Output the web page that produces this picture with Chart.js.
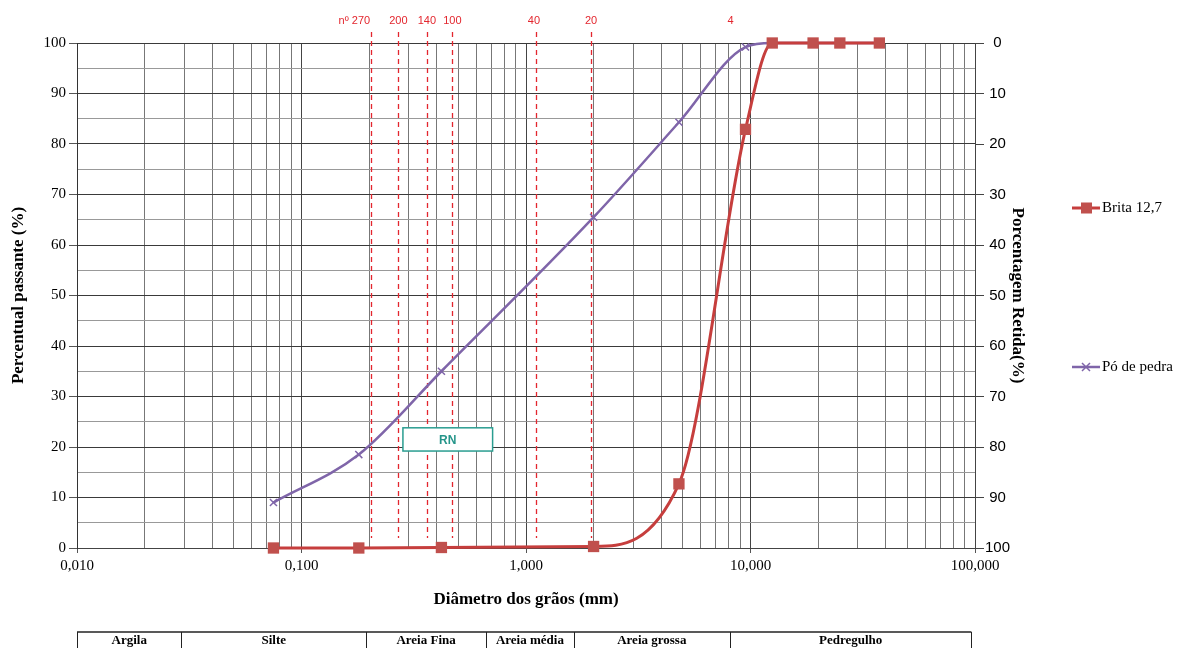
<!DOCTYPE html>
<html>
<head>
<meta charset="utf-8">
<script src="https://cdn.jsdelivr.net/npm/chart.js@4.4.1/dist/chart.umd.min.js"></script>
<style>
html, body { margin: 0; padding: 0; background: #fff; }
#wrap { width: 1181px; height: 648px; position: relative; }
</style>
</head>
<body>
<div id="wrap"><canvas id="granChart" width="1181" height="648"></canvas></div>
<script>
// abertura das peneiras (mm) e % passante
var sieveSizes = [0.075, 0.18, 0.42, 2.0, 4.8, 9.5, 12.5, 19, 25, 37.5];
var britaPassing = [0, 0, 0.1, 0.3, 12.7, 82.9, 100, 100, 100, 100];
var poPassing = [9.0, 18.5, 35.0, 65.5, 84.3, 99.2, 100, 100, 100, 100];

// linhas tracejadas (peneiras de referencia)
var refLabels = ['nº 270', '200', '140', '100', '40', '20', '4'];
var refLines = [0.205, 0.27, 0.362, 0.47, 1.11, 1.95, null];
var refLabelAt = [0.172, 0.27, 0.362, 0.47, 1.085, 1.95, 8.15];

// caixa RN
var rnX = [0.283, 0.71];
var rnY = [19.2, 23.8];

// tabela de classificacao
var soilClasses = ['Argila', 'Silte', 'Areia Fina', 'Areia média', 'Areia grossa', 'Pedregulho'];
var soilLimits = [0.01, 0.0292, 0.194, 0.664, 1.632, 8.09, 96.4];

var decades = [0.01, 0.1, 1, 10, 100];

function isDecade(v) {
    var l = Math.log10(v);
    return Math.abs(l - Math.round(l)) < 1e-9;
}

var serif = '"Liberation Serif", "Times New Roman", serif';
var sans = '"Liberation Sans", Arial, sans-serif';

var overlays = {
    id: 'overlays',
    beforeDatasetsDraw: function (chart) {
        var ctx = chart.ctx, xs = chart.scales.x, ys = chart.scales.y;
        var top = chart.chartArea.top - 11;
        ctx.save();
        ctx.strokeStyle = '#e3262e';
        ctx.lineWidth = 1.3;
        ctx.setLineDash([5, 4]);
        for (var i = 0; i < refLines.length; i++) {
            if (refLines[i] === null) continue;
            var px = Math.round(xs.getPixelForValue(refLines[i])) + 0.5;
            ctx.beginPath();
            ctx.moveTo(px, top);
            ctx.lineTo(px, ys.getPixelForValue(2));
            ctx.stroke();
        }
        ctx.setLineDash([]);
        ctx.fillStyle = '#e3262e';
        ctx.font = '11px ' + sans;
        ctx.textAlign = 'center';
        ctx.textBaseline = 'middle';
        for (var j = 0; j < refLabels.length; j++) {
            ctx.fillText(refLabels[j], xs.getPixelForValue(refLabelAt[j]), 21);
        }
        ctx.restore();
    },
    afterDatasetsDraw: function (chart) {
        var ctx = chart.ctx, xs = chart.scales.x, ys = chart.scales.y;
        var x0 = xs.getPixelForValue(rnX[0]), x1 = xs.getPixelForValue(rnX[1]);
        var y0 = ys.getPixelForValue(rnY[1]), y1 = ys.getPixelForValue(rnY[0]);
        ctx.save();
        ctx.fillStyle = '#fff';
        ctx.fillRect(x0, y0, x1 - x0, y1 - y0);
        ctx.strokeStyle = '#2a9d90';
        ctx.lineWidth = 1.5;
        ctx.strokeRect(x0, y0, x1 - x0, y1 - y0);
        ctx.fillStyle = '#25958a';
        ctx.font = 'bold 12px ' + sans;
        ctx.textAlign = 'center';
        ctx.textBaseline = 'middle';
        ctx.fillText('RN', (x0 + x1) / 2, (y0 + y1) / 2 + 1);
        ctx.restore();
    },
    afterDraw: function (chart) {
        var ctx = chart.ctx, xs = chart.scales.x;
        ctx.save();
        // legenda
        var rows = [208, 367];
        chart.data.datasets.forEach(function (ds, i) {
            var y = rows[i];
            ctx.strokeStyle = ds.borderColor;
            ctx.lineWidth = ds.borderWidth;
            ctx.beginPath();
            ctx.moveTo(1072, y);
            ctx.lineTo(1100, y);
            ctx.stroke();
            if (ds.pointStyle === 'rect') {
                ctx.fillStyle = ds.pointBackgroundColor;
                ctx.fillRect(1081, y - 5.5, 11, 11);
            } else {
                ctx.lineWidth = 1.5;
                ctx.beginPath();
                ctx.moveTo(1082, y - 4); ctx.lineTo(1090, y + 4);
                ctx.moveTo(1082, y + 4); ctx.lineTo(1090, y - 4);
                ctx.stroke();
            }
            ctx.fillStyle = '#000';
            ctx.font = '15px ' + serif;
            ctx.textAlign = 'left';
            ctx.textBaseline = 'middle';
            ctx.fillText(ds.label, 1102, y);
        });
        // tabela
        var ty = 632;
        var lx = soilLimits.map(function (v) { return xs.getPixelForValue(v); });
        ctx.strokeStyle = '#222';
        ctx.lineWidth = 1.5;
        ctx.beginPath();
        ctx.moveTo(lx[0], ty);
        ctx.lineTo(lx[lx.length - 1], ty);
        ctx.stroke();
        ctx.lineWidth = 1;
        for (var k = 0; k < lx.length; k++) {
            var vx = Math.round(lx[k]) + 0.5;
            ctx.beginPath();
            ctx.moveTo(vx, ty);
            ctx.lineTo(vx, 648);
            ctx.stroke();
        }
        ctx.fillStyle = '#000';
        ctx.font = 'bold 13px ' + serif;
        ctx.textAlign = 'center';
        ctx.textBaseline = 'middle';
        for (var m = 0; m < soilClasses.length; m++) {
            ctx.fillText(soilClasses[m], (lx[m] + lx[m + 1]) / 2, 641);
        }
        ctx.restore();
    }
};

var ctxG = document.getElementById('granChart').getContext('2d');
var granChart = new Chart(ctxG, {
    type: 'line',
    data: {
        datasets: [{
            label: 'Brita 12,7',
            data: sieveSizes.map(function (s, i) { return {x: s, y: britaPassing[i]}; }),
            borderColor: '#c63e3d',
            backgroundColor: '#c0504d',
            borderWidth: 3,
            pointStyle: 'rect',
            pointRadius: 8,
            pointBackgroundColor: '#c0504d',
            pointBorderColor: '#c0504d',
            pointBorderWidth: 0,
            cubicInterpolationMode: 'monotone',
            clip: false,
            yAxisID: 'y'
        }, {
            label: 'Pó de pedra',
            data: sieveSizes.map(function (s, i) { return {x: s, y: poPassing[i]}; }),
            borderColor: '#7f65a9',
            backgroundColor: '#7f65a9',
            borderWidth: 2.5,
            pointStyle: 'crossRot',
            pointRadius: 5,
            pointBorderColor: '#7f65a9',
            pointBorderWidth: 1.5,
            cubicInterpolationMode: 'monotone',
            clip: false,
            yAxisID: 'y'
        }]
    },
    options: {
        responsive: false,
        animation: false,
        devicePixelRatio: 1,
        layout: { padding: { top: 43, right: 146, bottom: 30, left: 0 } },
        plugins: { legend: { display: false }, tooltip: { enabled: false } },
        scales: {
            x: {
                type: 'logarithmic',
                min: 0.01,
                max: 100,
                afterFit: function (s) { s.height = 70; },
                afterBuildTicks: function (s) {
                    var t = [];
                    decades.forEach(function (d, i) {
                        if (i === decades.length - 1) { t.push({value: d}); return; }
                        for (var n = 1; n < 10; n++) t.push({value: d * n});
                    });
                    s.ticks = t;
                },
                ticks: {
                    autoSkip: false,
                    maxRotation: 0,
                    padding: 4,
                    color: '#000',
                    font: { family: serif, size: 15 },
                    callback: function (v) {
                        return isDecade(v) ? Number(v).toFixed(3).replace('.', ',') : '';
                    }
                },
                grid: {
                    color: function (c) { return c.tick && isDecade(c.tick.value) ? '#444' : '#777'; },
                    tickLength: 5,
                    tickColor: function (c) { return c.tick && isDecade(c.tick.value) ? '#555' : 'rgba(0,0,0,0)'; }
                },
                border: { color: '#444' },
                title: {
                    display: true,
                    text: 'Diâmetro dos grãos (mm)',
                    color: '#000',
                    font: { family: serif, size: 17, weight: 'bold' },
                    padding: { top: 4, bottom: 8 }
                }
            },
            y: {
                position: 'left',
                min: 0,
                max: 100,
                afterFit: function (s) { s.width = 77; },
                ticks: {
                    stepSize: 5,
                    autoSkip: false,
                    padding: 3,
                    color: '#000',
                    font: { family: serif, size: 15 },
                    callback: function (v) { return v % 10 === 0 ? v : ''; }
                },
                grid: {
                    color: function (c) { return c.tick && c.tick.value % 10 === 0 ? '#3a3a3a' : '#999'; },
                    tickLength: 8,
                    tickColor: function (c) { return c.tick && c.tick.value % 10 === 0 ? '#555' : 'rgba(0,0,0,0)'; }
                },
                border: { color: '#333' },
                title: {
                    display: true,
                    text: 'Percentual passante (%)',
                    color: '#000',
                    font: { family: serif, size: 17, weight: 'bold' },
                    padding: { top: 8, bottom: 0 }
                }
            },
            y2: {
                position: 'right',
                min: 0,
                max: 100,
                reverse: true,
                afterFit: function (s) { s.width = 60; },
                ticks: {
                    stepSize: 10,
                    padding: 1,
                    crossAlign: 'center',
                    color: '#000',
                    font: { family: sans, size: 15 }
                },
                grid: { drawOnChartArea: false, tickLength: 9, tickColor: '#444' },
                border: { color: '#444' },
                title: {
                    display: true,
                    text: 'Porcentagem Retida(%)',
                    color: '#000',
                    font: { family: serif, size: 17, weight: 'bold' },
                    padding: { top: 7, bottom: 0 }
                }
            }
        }
    },
    plugins: [overlays]
});
</script>
</body>
</html>
